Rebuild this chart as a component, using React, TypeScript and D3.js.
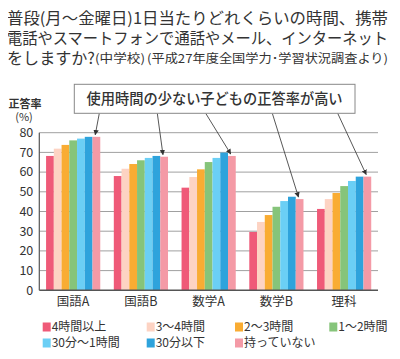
import { useEffect, useRef } from "react";
import * as d3 from "d3";

const subjects = ["国語A", "国語B", "数学A", "数学B", "理科"];
const groups = ["4時間以上", "3～4時間", "2～3時間", "1～2時間", "30分～1時間", "30分以下", "持っていない"];
const colors = ["#ef5a78", "#fdd3c3", "#f9ac33", "#86c47a", "#6bcff5", "#2ea3dc", "#f49aa6"];

// values per subject, one per usage group
const kokugoA = [68.2, 71.9, 73.8, 76.1, 77.0, 77.9, 77.9];
const kokugoB = [58.0, 61.7, 64.1, 66.0, 67.2, 68.2, 67.8];
const sugakuA = [52.1, 57.5, 61.4, 65.1, 67.2, 69.9, 68.2];
const sugakuB = [29.6, 34.7, 38.2, 42.4, 45.3, 47.5, 46.3];
const rika = [41.3, 46.3, 49.4, 52.9, 55.5, 57.7, 57.7];
const values = [kokugoA, kokugoB, sugakuA, sugakuB, rika];
const yTicks = [0, 10, 20, 30, 40, 50, 60, 70, 80];

const FONT = "'Noto Sans CJK JP', 'Noto Sans', sans-serif";

function App() {
  const ref = useRef<SVGSVGElement>(null);

  useEffect(() => {
    const svg = d3.select(ref.current);
    svg.selectAll("*").remove();

    const margin = { top: 132.7, left: 39.3, right: 22, bottom: 69 };
    const width = 400 - margin.left - margin.right;
    const height = 290.3 - margin.top;

    // title
    const title = svg.append("g").attr("font-family", FONT).attr("fill", "#333");
    title.append("text").attr("x", 7).attr("y", 24).style("font-size", "16px")
      .attr("textLength", 381).attr("lengthAdjust", "spacingAndGlyphs")
      .text("普段(月～金曜日)1日当たりどれくらいの時間、携帯");
    title.append("text").attr("x", 7).attr("y", 44).style("font-size", "16px")
      .attr("textLength", 381).attr("lengthAdjust", "spacingAndGlyphs")
      .text("電話やスマートフォンで通話やメール、インターネット");
    title.append("text").attr("x", 7).attr("y", 64).style("font-size", "16px")
      .attr("textLength", 88).attr("lengthAdjust", "spacingAndGlyphs")
      .text("をしますか?");
    title.append("text").attr("x", 95).attr("y", 63).style("font-size", "12px")
      .attr("textLength", 50).attr("lengthAdjust", "spacingAndGlyphs")
      .text("(中学校)");
    title.append("text").attr("x", 147).attr("y", 63).style("font-size", "12px")
      .attr("textLength", 241).attr("lengthAdjust", "spacingAndGlyphs")
      .text("(平成27年度全国学力･学習状況調査より)");

    const g = svg.append("g").attr("transform", `translate(${margin.left},${margin.top})`);

    const x0 = d3.scaleBand().domain(subjects).range([0, width]).paddingInner(0.2).paddingOuter(0.1);
    const x1 = d3.scaleBand().domain(groups).range([0, x0.bandwidth()]);
    const y = d3.scaleLinear().domain([0, 80]).range([height, 0]);

    // gridlines
    g.append("g").selectAll("line").data(yTicks.slice(1)).join("line")
      .attr("x1", 0).attr("x2", width)
      .attr("y1", (d) => y(d)).attr("y2", (d) => y(d))
      .attr("stroke", "#a0a0a0").attr("stroke-width", 1);

    // bars
    g.append("g").selectAll("g").data(subjects).join("g")
      .attr("transform", (d) => `translate(${x0(d)},0)`)
      .selectAll("rect")
      .data((d, i) => values[i].map((v, j) => ({ key: groups[j], v, c: colors[j] })))
      .join("rect")
      .attr("x", (d) => x1(d.key)!)
      .attr("width", x1.bandwidth())
      .attr("y", (d) => y(d.v))
      .attr("height", (d) => height - y(d.v))
      .attr("fill", (d) => d.c);

    // axes
    g.append("line").attr("x1", 0).attr("x2", 0).attr("y1", 0).attr("y2", height)
      .attr("stroke", "#555").attr("stroke-width", 1.2);
    g.append("line").attr("x1", 0).attr("x2", width).attr("y1", height).attr("y2", height)
      .attr("stroke", "#555").attr("stroke-width", 1.5);

    g.append("g").selectAll("text").data(yTicks).join("text")
      .attr("x", -6).attr("y", (d) => y(d)).attr("dy", "0.35em")
      .attr("text-anchor", "end").attr("font-family", FONT).style("font-size", "12.5px")
      .attr("fill", "#333").text((d) => d);

    g.append("g").selectAll("text").data(subjects).join("text")
      .attr("x", (d) => x0(d)! + x0.bandwidth() / 2).attr("y", height + 16)
      .attr("text-anchor", "middle").attr("font-family", FONT).style("font-size", "12.5px")
      .attr("fill", "#333").text((d) => d);

    // y label
    svg.append("text").attr("x", 25).attr("y", 108).attr("text-anchor", "middle")
      .attr("font-family", FONT).style("font-size", "11px").style("font-weight", "bold")
      .attr("fill", "#333").text("正答率");
    svg.append("text").attr("x", 24).attr("y", 121).attr("text-anchor", "middle")
      .attr("font-family", FONT).style("font-size", "11px")
      .attr("fill", "#333").text("(%)");

    // callout arrows
    const defs = svg.append("defs");
    defs.append("marker").attr("id", "arr").attr("viewBox", "0 0 10 10")
      .attr("refX", 9).attr("refY", 5).attr("markerWidth", 6).attr("markerHeight", 6)
      .attr("orient", "auto-start-reverse")
      .append("path").attr("d", "M0,0L10,5L0,10z").attr("fill", "#333");

    const starts = [99.3, 157.3, 205.7, 272.3, 337.7];
    const last = groups[groups.length - 1];
    svg.append("g").selectAll("line").data(subjects).join("line")
      .attr("x1", (d, i) => starts[i]).attr("y1", 113.3)
      .attr("x2", (d) => margin.left + x0(d)! + x1(last)! + x1.bandwidth() * 0.35)
      .attr("y2", (d, i) => margin.top + y(values[i][6]) - 2)
      .attr("stroke", "#444").attr("stroke-width", 0.9)
      .attr("marker-end", "url(#arr)");

    // callout box
    svg.append("rect").attr("x", 74.3).attr("y", 84.3).attr("width", 280.7).attr("height", 29)
      .attr("fill", "#fff").attr("stroke", "#888").attr("stroke-width", 1);
    svg.append("text").attr("x", 214.6).attr("y", 99).attr("dy", "0.36em")
      .attr("text-anchor", "middle").attr("font-family", FONT)
      .style("font-size", "15px").style("font-weight", 500).attr("fill", "#333")
      .attr("textLength", 256).attr("lengthAdjust", "spacingAndGlyphs")
      .text("使用時間の少ない子どもの正答率が高い");

    // legend
    const legX = [42.7, 146.7, 235, 329.3];
    const legend = svg.append("g").selectAll("g").data(groups).join("g")
      .attr("transform", (d, i) => `translate(${legX[i % 4]},${i < 4 ? 327 : 343})`);
    legend.append("rect").attr("x", 0).attr("y", -4.5).attr("width", 8).attr("height", 9)
      .attr("fill", (d, i) => colors[i]);
    legend.append("text").attr("x", 9).attr("y", 0).attr("dy", "0.36em")
      .attr("font-family", FONT).style("font-size", "12px").attr("fill", "#333")
      .text((d) => d);
  }, []);

  return <svg ref={ref} width={400} height={359} style={{ display: "block", margin: -8 }} />;
}

export default App;
